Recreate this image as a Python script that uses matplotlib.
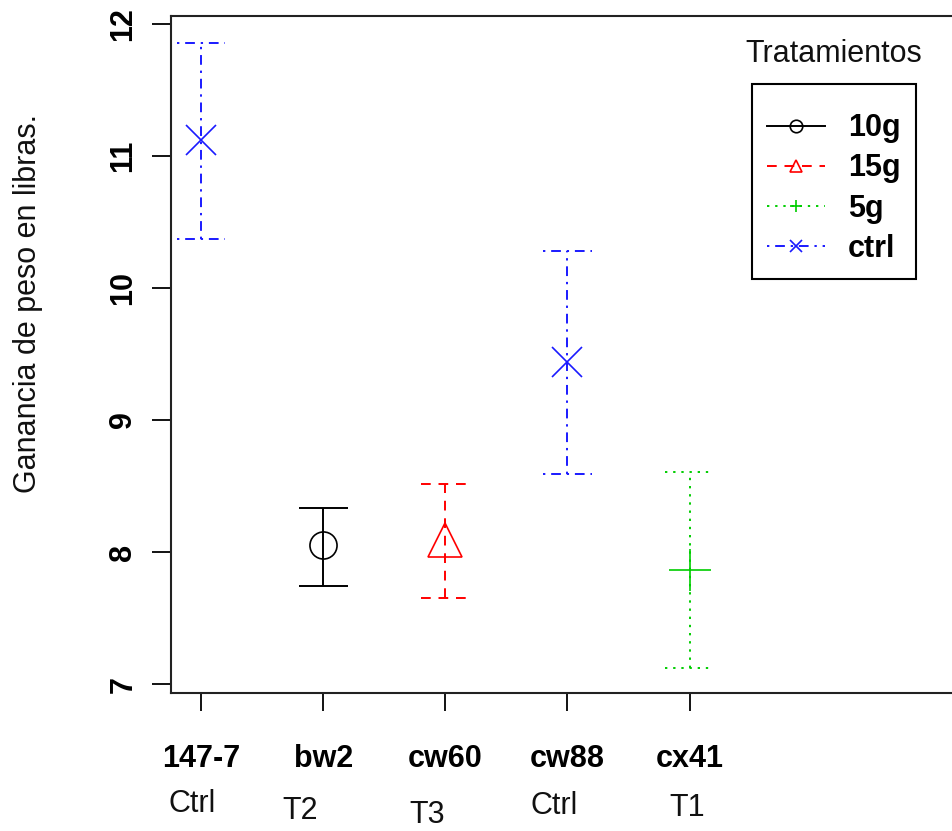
import matplotlib
matplotlib.use('Agg')
import matplotlib.pyplot as plt
from matplotlib.lines import Line2D

plt.rcParams['font.family'] = ['Liberation Sans', 'DejaVu Sans']

# data
groups = ['147-7', 'bw2', 'cw60', 'cw88', 'cx41']
subtitles = ['Ctrl', 'T2', 'T3', 'Ctrl', 'T1']
treatment = ['ctrl', '10g', '15g', 'ctrl', '5g']
means = [11.12, 8.05, 8.09, 9.44, 7.865]
lower = [10.37, 7.742, 7.654, 8.59, 7.12]
upper = [11.858, 8.331, 8.515, 10.28, 8.61]
yticks = [7, 8, 9, 10, 11, 12]

legendOrder = ['10g', '15g', '5g', 'ctrl']
styles = {
    '10g': dict(color='black', ls='-', marker='o', ms=19.5),
    '15g': dict(color='#ff0000', ls=(0, (5, 4)), marker='^', ms=25),
    '5g': dict(color='#00cd00', ls=(0, (1.2, 3)), marker='+', ms=30),
    'ctrl': dict(color='#1a1aff', ls=(0, (1.2, 3, 5, 3)), marker='x', ms=21),
}
# small offsets (points) of the second label line, as in the picture
subOffsets = [(-6.5, -80), (-16.5, -85), (-13, -88), (-9.5, -81), (-1.5, -83)]

fig = plt.figure(figsize=(9.53, 8.31), dpi=100)
ax = fig.add_axes([171/953, 138/831, 786/953, 677/831])

capw = 0.2
for i in range(len(groups)):
    x = i + 1
    st = styles[treatment[i]]
    ax.vlines(x, lower[i], upper[i], colors=st['color'], linestyles=[st['ls']], lw=1.4)
    ax.hlines([lower[i], upper[i]], x - capw, x + capw, colors=st['color'], linestyles=[st['ls']], lw=1.4)
    ax.plot([x], [means[i]], marker=st['marker'], ms=st['ms'], mfc='none',
            mec=st['color'], mew=1.2, ls='none')

ax.set_xlim(0.754, 7.19)
ax.set_ylim(6.932, 12.061)
ax.set_xticks(range(1, len(groups) + 1))
ax.set_xticklabels(groups, fontsize=22, fontweight='bold')
ax.set_yticks(yticks)
ax.set_yticklabels([str(v) for v in yticks], fontsize=22, fontweight='bold')
ax.tick_params(axis='y', labelrotation=90, length=13.5, width=1.3, pad=10)
ax.tick_params(axis='x', length=13, width=1.3, pad=24)
for lab in ax.get_yticklabels():
    lab.set_va('center')
for sp in ax.spines.values():
    sp.set_linewidth(1.5)
    sp.set_color('#222222')

for i, s in enumerate(subtitles):
    ax.annotate(s, xy=(i + 1, 0), xycoords=('data', 'axes fraction'),
                xytext=subOffsets[i], textcoords='offset points',
                ha='center', va='center', fontsize=22, color='#111111')

fig.text(28/953, 1 - 303/831, 'Ganancia de peso en libras.', rotation=90,
         ha='center', va='center', fontsize=22, color='#111111')

handles = [Line2D([], [], color=styles[k]['color'], ls=styles[k]['ls'], lw=1.4,
                  marker=styles[k]['marker'], ms=9, mfc='none', mew=1.2)
           for k in legendOrder]
leg = fig.legend(handles, legendOrder, loc='upper left',
                 bbox_to_anchor=(752/953, 1 - 84/831), bbox_transform=fig.transFigure,
                 borderaxespad=0, prop={'weight': 'bold', 'size': 22},
                 title=' ', title_fontsize=3,
                 fancybox=False, framealpha=1, edgecolor='black',
                 handlelength=1.9, handletextpad=0.75, labelspacing=0.33, borderpad=0.5)
leg.get_frame().set_linewidth(1.5)
fig.text(834/953, 1 - 54/831, 'Tratamientos', ha='center', va='center', fontsize=22, color='#111111')

fig.savefig('out.png', dpi=100)
